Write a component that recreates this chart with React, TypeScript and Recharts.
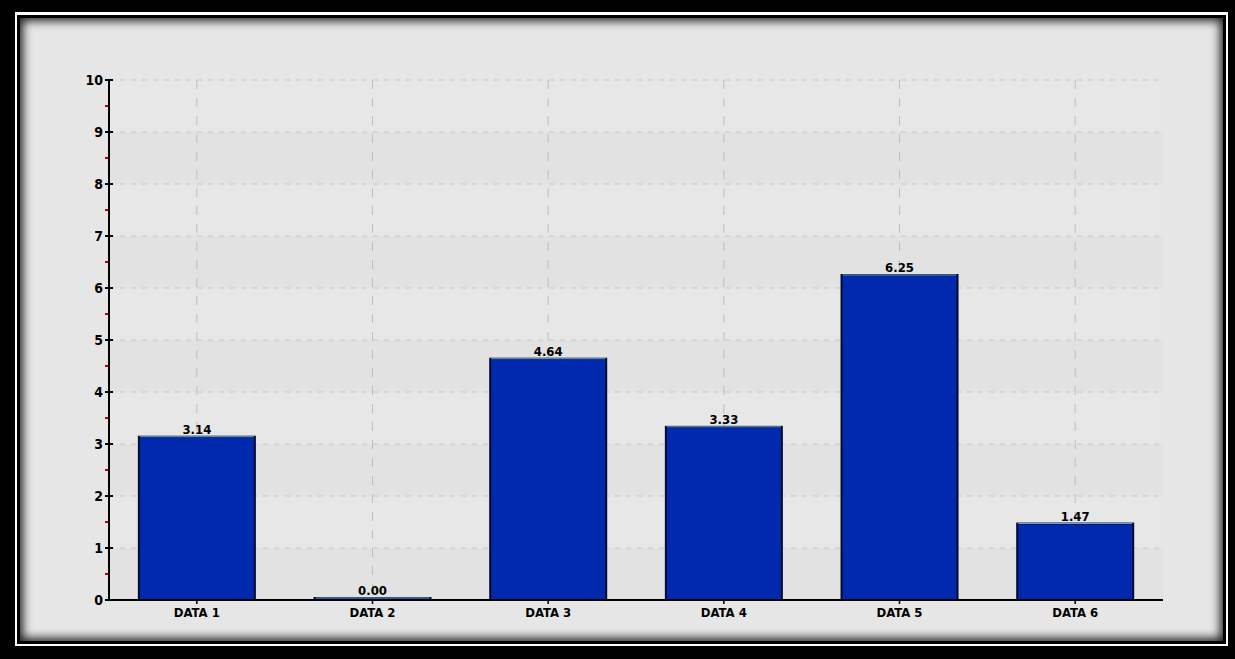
import React from 'react';
import { BarChart, Bar, XAxis, YAxis, CartesianGrid, LabelList } from 'recharts';

const categories = ['DATA 1', 'DATA 2', 'DATA 3', 'DATA 4', 'DATA 5', 'DATA 6'];
const values = [3.14, 0.0, 4.64, 3.33, 6.25, 1.47];
const majorTicks = [0, 1, 2, 3, 4, 5, 6, 7, 8, 9, 10];
const allTicks = [0, 0.5, 1, 1.5, 2, 2.5, 3, 3.5, 4, 4.5, 5, 5.5, 6, 6.5, 7, 7.5, 8, 8.5, 9, 9.5, 10];

const data = categories.map((name, i) => ({ name, value: values[i] }));

const FONT = '"DejaVu Sans Condensed", "DejaVu Sans", sans-serif';

const BarShape = (props: any) => {
  const { x, y, width, height } = props;
  if (width == null || height == null) return null;
  return (
    <g>
      <rect x={x} y={y} width={width} height={height} fill="#0029ad" stroke="#000a30" strokeWidth={2} />
      <line x1={x + 1} x2={x + width - 1} y1={y} y2={y} stroke="#6aa8e6" strokeWidth={1} />
    </g>
  );
};

// y tick: label + black mark on whole numbers, small red mark on halves
const YTick = (props: any) => {
  const { x, y, payload } = props;
  const v = payload.value;
  if (!Number.isInteger(v)) {
    return <line x1={x - 4} x2={x - 1} y1={y} y2={y} stroke="#c00000" strokeWidth={2} />;
  }
  return (
    <g>
      <line x1={x - 4} x2={x + 4} y1={y} y2={y} stroke="#000" strokeWidth={2} />
      <text
        x={x - 6}
        y={y}
        dy={5}
        textAnchor="end"
        fill="#000"
        fontSize={14}
        fontWeight="bold"
        fontFamily={FONT}
      >
        {v}
      </text>
    </g>
  );
};

const App = () => {
  return (
    <div style={{ position: 'absolute', left: 0, top: 0, width: 1235, height: 659, background: '#000' }}>
      <div style={{ position: 'absolute', left: 15, top: 12, width: 1213, height: 634, background: '#fff' }} />
      <div style={{ position: 'absolute', left: 17, top: 15, width: 1209, height: 629, background: '#000' }} />
      <div
        style={{
          position: 'absolute',
          left: 20,
          top: 18,
          width: 1203,
          height: 623,
          background: '#e6e6e6',
          boxShadow: 'inset 0 0 10px 3px rgba(0,0,0,0.85)',
        }}
      />
      <div style={{ position: 'absolute', left: 0, top: 0 }}>
        <BarChart
          width={1235}
          height={659}
          data={data}
          margin={{ top: 80, right: 72, bottom: 29, left: 69 }}
          barCategoryGap="17%"
        >
          <CartesianGrid
            vertical={false}
            horizontalValues={majorTicks}
            stroke="#c6c6c6"
            strokeDasharray="5 6"
            horizontalFill={['#e7e7e7', '#e2e2e2']}
          />
          <CartesianGrid horizontal={false} syncWithTicks stroke="#bdbdbd" strokeDasharray="9 9" />
          <YAxis
            width={40}
            domain={[0, 10]}
            ticks={allTicks}
            interval={0}
            axisLine={{ stroke: '#000', strokeWidth: 2 }}
            tickLine={false}
            tickSize={0}
            tickMargin={0}
            tick={YTick}
          />
          <XAxis
            dataKey="name"
            height={30}
            axisLine={{ stroke: '#000', strokeWidth: 2 }}
            tickLine={{ stroke: '#000', strokeWidth: 1.5 }}
            tickSize={4}
            tickMargin={4}
            tick={{ fill: '#000', fontSize: 13, fontWeight: 'bold', fontFamily: FONT }}
          />
          <Bar dataKey="value" shape={BarShape} minPointSize={2} isAnimationActive={false}>
            <LabelList
              dataKey="value"
              position="top"
              offset={3}
              formatter={(v: any) => Number(v).toFixed(2)}
              style={{ fill: '#000', fontSize: 13, fontWeight: 'bold', fontFamily: FONT }}
            />
          </Bar>
        </BarChart>
      </div>
    </div>
  );
};

export default App;
